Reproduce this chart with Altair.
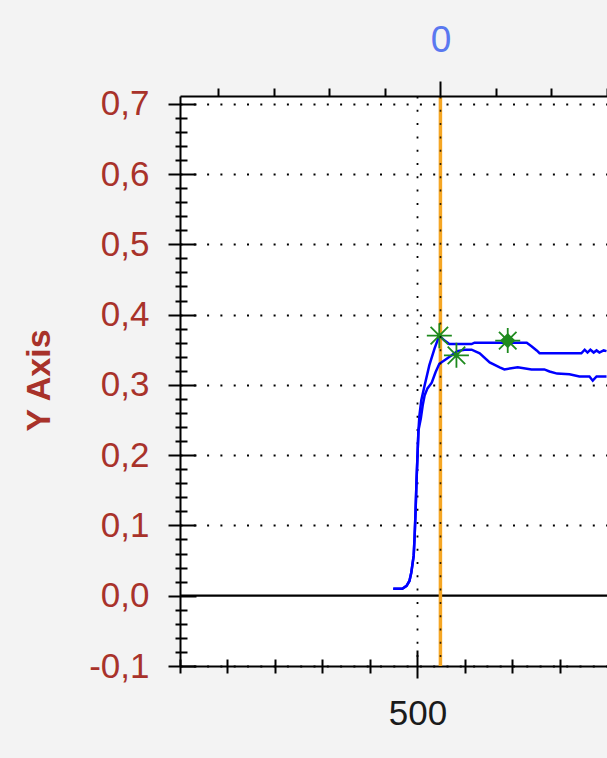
import altair as alt
import pandas as pd

# ---- data ----
a_x = [449, 468, 477, 483, 487, 492, 494, 496, 498, 500, 502, 504, 508, 515, 525, 536, 546, 557, 567, 614,
       620, 673, 730, 740, 751, 757, 845, 852, 858, 864, 871, 877, 883, 892, 898]
a_y = [0.010, 0.010, 0.014, 0.021, 0.033, 0.057, 0.085, 0.121, 0.164, 0.199, 0.235, 0.256, 0.278, 0.299,
       0.328, 0.352, 0.370, 0.363, 0.358, 0.358, 0.360, 0.360, 0.360, 0.355, 0.349, 0.345, 0.345, 0.350,
       0.346, 0.350, 0.346, 0.349, 0.346, 0.349, 0.348]
b_x = [449, 468, 477, 483, 487, 492, 494, 496, 498, 500, 502, 507, 511, 515, 521, 530, 538, 546, 557, 572,
       584, 599, 614, 631, 652, 673, 683, 711, 740, 767, 778, 794, 820, 841, 862, 869, 877, 898]
b_y = [0.010, 0.010, 0.014, 0.021, 0.033, 0.057, 0.085, 0.121, 0.164, 0.199, 0.235, 0.252, 0.271, 0.285,
       0.295, 0.303, 0.318, 0.330, 0.335, 0.342, 0.348, 0.350, 0.350, 0.345, 0.332, 0.325, 0.322, 0.325,
       0.322, 0.322, 0.319, 0.316, 0.315, 0.312, 0.312, 0.306, 0.312, 0.312]

star_x = [546, 582, 690]
star_y = [0.370, 0.342, 0.363]
diamond_x = [690]
diamond_y = [0.363]

cursor_top = [0]          # orange cursor, on the top axis
zero_line = [0.0]

x_ticks = [0, 100, 200, 300, 400, 500, 600, 700, 800]
y_ticks = [round(-0.1 + 0.02 * i, 2) for i in range(41)]
top_ticks = [-4, -3, -2, -1, 0, 1, 2, 3]

X_DOMAIN = [0, 899]
Y_DOMAIN = [-0.1, 0.711]
TOP_DOMAIN = [-4.69, 3.0]
W, H = 427, 570

RED = "#a8322a"
FONT = "Liberation Sans"

curves = pd.DataFrame(
    {"x": a_x + b_x, "y": a_y + b_y, "s": ["A"] * len(a_x) + ["B"] * len(b_x)}
)
stars = pd.DataFrame({"x": star_x, "y": star_y})
diamonds = pd.DataFrame({"x": diamond_x, "y": diamond_y})
cursor = pd.DataFrame({"t": cursor_top})
zero = pd.DataFrame({"v": zero_line})

xscale = alt.Scale(domain=X_DOMAIN, nice=False, zero=False)
yscale = alt.Scale(domain=Y_DOMAIN, nice=False, zero=False)

is_major_y = "abs(datum.value*10 - round(datum.value*10)) < 0.001"

y_axis_out = alt.Axis(
    orient="left",
    values=y_ticks,
    labelExpr=f"{is_major_y} ? replace(replace(format(datum.value, '.1f'), '.', ','), '−', '-') : ''",
    tickSize={"condition": {"test": is_major_y, "value": 12}, "value": 5},
    tickWidth=2,
    tickColor="black",
    domainColor="black",
    domainWidth=2,
    grid=True,
    gridColor="black",
    gridWidth=1.8,
    gridDash=[2, 11.3],
    gridOpacity={"condition": {"test": f"{is_major_y} && abs(datum.value) > 0.001", "value": 1}, "value": 0},
    labelColor=RED,
    labelFont=FONT,
    labelFontSize=35,
    labelPadding=19,
    labelBaseline="middle",
    title="Y Axis",
    titleFont=FONT,
    titleFontSize=34,
    titleFontWeight="bold",
    titleColor=RED,
    titleAngle=270,
    titleAlign="center",
    titleBaseline="middle",
    titleX=-141,
    titleY=284,
)

x_axis_out = alt.Axis(
    orient="bottom",
    values=x_ticks,
    labelExpr="datum.value === 500 ? '500' : ''",
    tickSize={"condition": {"test": "datum.value === 500", "value": 12}, "value": 7},
    tickWidth=2,
    tickColor="black",
    domainColor="black",
    domainWidth=2,
    grid=True,
    gridColor="black",
    gridWidth=1.8,
    gridDash=[2, 11.3],
    gridOpacity={"condition": {"test": "datum.value === 500", "value": 1}, "value": 0},
    labelColor="#1a1a1a",
    labelFont=FONT,
    labelFontSize=35,
    labelPadding=18,
    title=None,
)

x_axis_in = alt.Axis(
    orient="top",
    offset=-H,
    values=x_ticks,
    labels=False,
    domain=False,
    grid=False,
    tickSize={"condition": {"test": "datum.value === 500", "value": 16}, "value": 7},
    tickWidth=2,
    tickColor="black",
    title=None,
)

y_axis_in = alt.Axis(
    orient="right",
    offset=-W,
    values=y_ticks,
    labels=False,
    domain=False,
    grid=False,
    tickSize={"condition": {"test": is_major_y, "value": 16}, "value": 7},
    tickWidth=2,
    tickColor="black",
    title=None,
)

top_axis = alt.Axis(
    orient="top",
    values=top_ticks,
    labelExpr="datum.value === 0 ? '0' : ''",
    tickSize={"condition": {"test": "datum.value === 0", "value": 15}, "value": 8},
    tickWidth=2,
    tickColor="black",
    domainColor="black",
    domainWidth=2,
    grid=True,
    gridColor="black",
    gridWidth=1.6,
    gridDash=[2, 11.3],
    gridOpacity={"condition": {"test": "datum.value === 0", "value": 0.8}, "value": 0},
    labelColor="#5a78f0",
    labelFont=FONT,
    labelFontSize=37,
    labelPadding=22,
    zindex=1,
    title=None,
)

zero_layer = alt.Chart(zero).mark_rule(color="black", strokeWidth=2.2).encode(
    y=alt.Y("v:Q", scale=yscale, axis=None)
)

cursor_layer = alt.Chart(cursor).mark_rule(color="#f5a623", strokeWidth=3.5).encode(
    x=alt.X("t:Q", scale=alt.Scale(domain=TOP_DOMAIN, nice=False, zero=False), axis=top_axis)
)

curve_layer = alt.Chart(curves).mark_line(color="#0000ff", strokeWidth=2.5, clip=True).encode(
    x=alt.X("x:Q", scale=xscale, axis=x_axis_out),
    y=alt.Y("y:Q", scale=yscale, axis=y_axis_out),
    detail="s:N",
)

STAR = "M-1,0L1,0M0,-1L0,1M-0.7,-0.7L0.7,0.7M-0.7,0.7L0.7,-0.7"
star_layer = alt.Chart(stars).mark_point(
    shape=STAR, filled=False, size=625, color="#1e8a1e", strokeWidth=1.8, opacity=1
).encode(
    x=alt.X("x:Q", scale=xscale, axis=x_axis_in),
    y=alt.Y("y:Q", scale=yscale, axis=y_axis_in),
)

diamond_layer = alt.Chart(diamonds).mark_point(
    shape="diamond", filled=True, size=230, color="#1e8a1e", opacity=1
).encode(
    x=alt.X("x:Q", scale=xscale, axis=None),
    y=alt.Y("y:Q", scale=yscale, axis=None),
)

chart = (
    alt.layer(zero_layer, cursor_layer, curve_layer, star_layer, diamond_layer)
    .resolve_scale(x="independent")
    .resolve_axis(x="independent", y="independent")
    .properties(
        width=W,
        height=H,
        autosize=alt.AutoSizeParams(type="none"),
        padding={"left": 180, "top": 96, "right": 0, "bottom": 92},
        background="#f3f3f3",
    )
    .configure_view(fill="white", stroke="transparent")
)

chart.save("out.html", embed_options={"renderer": "svg", "actions": False})
